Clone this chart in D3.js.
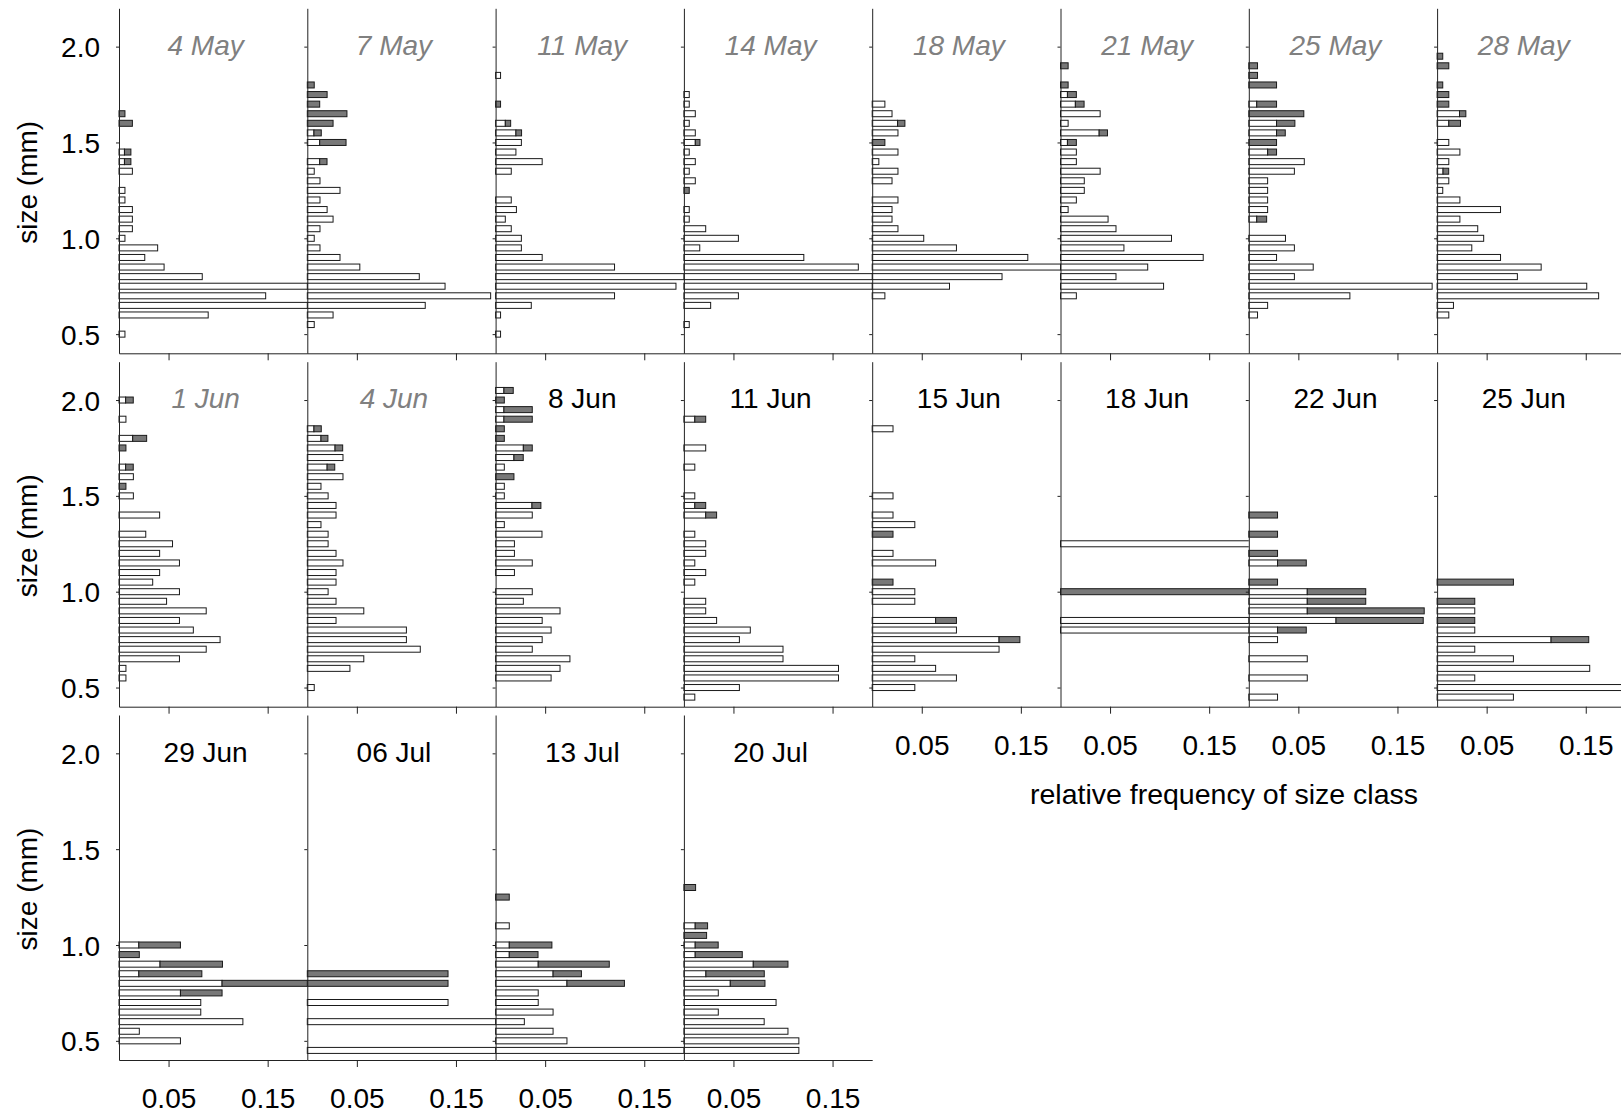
<!DOCTYPE html>
<meta charset="utf-8">
<style>

body {
  margin: 0;
  background: #fff;
}

text {
  font-family: "Liberation Sans", Arial, sans-serif;
  font-size: 28px;
  fill: #000;
}

.title.early {
  fill: #808080;
  font-style: italic;
}

.axis path,
.axis line {
  stroke: #222;
}

.axis text {
  font-size: 28px;
}

.bar {
  stroke: #1a1a1a;
  stroke-width: 1;
}

.open {
  fill: #fff;
}

.shaded {
  fill: #787878;
}

</style>
<body>
<script src="https://cdn.jsdelivr.net/npm/d3@7/dist/d3.min.js"></script>
<script>

// sampling dates, one panel each
var dates = ["4 May", "7 May", "11 May", "14 May", "18 May", "21 May", "25 May", "28 May",
             "1 Jun", "4 Jun", "8 Jun", "11 Jun", "15 Jun", "18 Jun", "22 Jun", "25 Jun",
             "29 Jun", "06 Jul", "13 Jul", "20 Jul"];

var xTicks = [0.05, 0.15],
    yTicks = [0.5, 1.0, 1.5, 2.0];

// each row: [size class (mm), open bar, shaded bar] -- shaded is stacked after open
var may04 = [[1.65, 0, 0.006], [1.60, 0, 0.0135], [1.45, 0.0055, 0.0065], [1.40, 0.0055, 0.0065],
  [1.35, 0.0135, 0], [1.25, 0.006, 0], [1.20, 0.006, 0], [1.15, 0.0135, 0], [1.10, 0.0135, 0],
  [1.05, 0.0135, 0], [1.00, 0.006, 0], [0.95, 0.039, 0], [0.90, 0.026, 0], [0.85, 0.0455, 0],
  [0.80, 0.084, 0], [0.75, 0.215, 0], [0.70, 0.148, 0], [0.65, 0.22, 0], [0.60, 0.090, 0],
  [0.50, 0.006, 0]];

var may07 = [[1.80, 0, 0.007], [1.75, 0, 0.020], [1.70, 0, 0.0125], [1.65, 0, 0.040], [1.60, 0, 0.026],
  [1.55, 0.0067, 0.0074], [1.50, 0.0125, 0.0266], [1.40, 0.0125, 0.0074], [1.35, 0.007, 0],
  [1.30, 0.0128, 0], [1.25, 0.033, 0], [1.20, 0.0128, 0], [1.15, 0.020, 0], [1.10, 0.026, 0],
  [1.05, 0.0128, 0], [1.00, 0.007, 0], [0.95, 0.0128, 0], [0.90, 0.033, 0], [0.85, 0.053, 0],
  [0.80, 0.113, 0], [0.75, 0.139, 0], [0.70, 0.185, 0], [0.65, 0.119, 0], [0.60, 0.026, 0],
  [0.55, 0.007, 0]];

var may11 = [[1.85, 0.005, 0], [1.70, 0, 0.005], [1.60, 0.0098, 0.0054], [1.55, 0.0205, 0.0057],
  [1.50, 0.026, 0], [1.45, 0.0205, 0], [1.40, 0.047, 0], [1.35, 0.0158, 0], [1.20, 0.0158, 0],
  [1.15, 0.021, 0], [1.10, 0.0098, 0], [1.05, 0.0158, 0], [1.00, 0.026, 0], [0.95, 0.026, 0],
  [0.90, 0.047, 0], [0.85, 0.12, 0], [0.80, 0.215, 0], [0.75, 0.182, 0], [0.70, 0.12, 0],
  [0.65, 0.036, 0], [0.60, 0.005, 0], [0.50, 0.005, 0]];

var may14 = [[1.75, 0.0054, 0], [1.70, 0.0054, 0], [1.65, 0.0115, 0], [1.60, 0.0054, 0],
  [1.55, 0.0115, 0], [1.50, 0.0115, 0.0047], [1.45, 0.0054, 0], [1.40, 0.0115, 0], [1.35, 0.0054, 0],
  [1.30, 0.0115, 0], [1.25, 0, 0.0054], [1.15, 0.0054, 0], [1.10, 0.0054, 0], [1.05, 0.022, 0],
  [1.00, 0.055, 0], [0.95, 0.016, 0], [0.90, 0.121, 0], [0.85, 0.176, 0], [0.80, 0.215, 0],
  [0.75, 0.215, 0], [0.70, 0.055, 0], [0.65, 0.027, 0], [0.55, 0.0054, 0]];

var may18 = [[1.70, 0.0128, 0], [1.65, 0.020, 0], [1.60, 0.0256, 0.0074], [1.55, 0.026, 0],
  [1.50, 0, 0.0128], [1.45, 0.026, 0], [1.40, 0.0067, 0], [1.35, 0.026, 0], [1.30, 0.020, 0],
  [1.20, 0.026, 0], [1.15, 0.020, 0], [1.10, 0.020, 0], [1.05, 0.026, 0], [1.00, 0.052, 0],
  [0.95, 0.085, 0], [0.90, 0.157, 0], [0.85, 0.215, 0], [0.80, 0.131, 0], [0.75, 0.078, 0],
  [0.70, 0.0128, 0]];

var may21 = [[1.90, 0, 0.0077], [1.80, 0, 0.0077], [1.75, 0.007, 0.009], [1.70, 0.015, 0.0088],
  [1.65, 0.040, 0], [1.60, 0.0077, 0], [1.55, 0.039, 0.0084], [1.50, 0.007, 0.009], [1.45, 0.016, 0],
  [1.40, 0.016, 0], [1.35, 0.040, 0], [1.30, 0.024, 0], [1.25, 0.024, 0], [1.20, 0.016, 0],
  [1.15, 0.0077, 0], [1.10, 0.048, 0], [1.05, 0.056, 0], [1.00, 0.112, 0], [0.95, 0.064, 0],
  [0.90, 0.144, 0], [0.85, 0.088, 0], [0.80, 0.056, 0], [0.75, 0.104, 0], [0.70, 0.016, 0]];

var may25 = [[1.90, 0, 0.0088], [1.85, 0, 0.0088], [1.80, 0, 0.028], [1.70, 0.008, 0.020],
  [1.65, 0, 0.0555], [1.60, 0.028, 0.0185], [1.55, 0.028, 0.0088], [1.50, 0, 0.028],
  [1.45, 0.019, 0.009], [1.40, 0.056, 0], [1.35, 0.046, 0], [1.30, 0.019, 0], [1.25, 0.019, 0],
  [1.20, 0.019, 0], [1.15, 0.019, 0], [1.10, 0.008, 0.010], [1.00, 0.037, 0], [0.95, 0.046, 0],
  [0.90, 0.028, 0], [0.85, 0.065, 0], [0.80, 0.046, 0], [0.75, 0.185, 0], [0.70, 0.102, 0],
  [0.65, 0.019, 0], [0.60, 0.0088, 0]];

var may28 = [[1.95, 0, 0.0057], [1.90, 0, 0.0118], [1.80, 0, 0.0057], [1.75, 0, 0.0118],
  [1.70, 0, 0.0118], [1.65, 0.0226, 0.0064], [1.60, 0.0118, 0.0118], [1.50, 0.0118, 0],
  [1.45, 0.023, 0], [1.40, 0.0118, 0], [1.35, 0.006, 0.0057], [1.30, 0.0118, 0], [1.25, 0.0057, 0],
  [1.20, 0.023, 0], [1.15, 0.064, 0], [1.10, 0.023, 0], [1.05, 0.041, 0], [1.00, 0.047, 0],
  [0.95, 0.035, 0], [0.90, 0.064, 0], [0.85, 0.105, 0], [0.80, 0.081, 0], [0.75, 0.151, 0],
  [0.70, 0.163, 0], [0.65, 0.0165, 0], [0.60, 0.0118, 0]];

var jun01 = [[2.00, 0.0067, 0.0077], [1.90, 0.007, 0], [1.80, 0.0138, 0.0141], [1.75, 0, 0.007],
  [1.65, 0.0067, 0.0077], [1.60, 0.0145, 0], [1.55, 0, 0.007], [1.50, 0.0145, 0], [1.40, 0.041, 0],
  [1.30, 0.027, 0], [1.25, 0.054, 0], [1.20, 0.041, 0], [1.15, 0.061, 0], [1.10, 0.041, 0],
  [1.05, 0.034, 0], [1.00, 0.061, 0], [0.95, 0.048, 0], [0.90, 0.088, 0], [0.85, 0.061, 0],
  [0.80, 0.075, 0], [0.75, 0.102, 0], [0.70, 0.088, 0], [0.65, 0.061, 0], [0.60, 0.007, 0],
  [0.55, 0.007, 0]];

var jun04 = [[1.85, 0.0067, 0.0074], [1.80, 0.0138, 0.007], [1.75, 0.028, 0.0077], [1.70, 0.036, 0],
  [1.65, 0.020, 0.0077], [1.60, 0.036, 0], [1.55, 0.0138, 0], [1.50, 0.021, 0], [1.45, 0.029, 0],
  [1.40, 0.029, 0], [1.35, 0.0138, 0], [1.30, 0.021, 0], [1.25, 0.021, 0], [1.20, 0.029, 0],
  [1.15, 0.036, 0], [1.10, 0.029, 0], [1.05, 0.029, 0], [1.00, 0.021, 0], [0.95, 0.029, 0],
  [0.90, 0.057, 0], [0.85, 0.029, 0], [0.80, 0.100, 0], [0.75, 0.100, 0], [0.70, 0.114, 0],
  [0.65, 0.057, 0], [0.60, 0.043, 0], [0.50, 0.007, 0]];

var jun08 = [[2.05, 0.0084, 0.0094], [2.00, 0, 0.0088], [1.95, 0.0084, 0.0286], [1.90, 0.0084, 0.0286],
  [1.85, 0, 0.0088], [1.80, 0, 0.0088], [1.75, 0.028, 0.009], [1.70, 0.0185, 0.0094],
  [1.65, 0.0088, 0], [1.60, 0, 0.0185], [1.55, 0.0088, 0], [1.50, 0.0088, 0], [1.45, 0.0367, 0.009],
  [1.40, 0.037, 0], [1.35, 0.0088, 0], [1.30, 0.0468, 0], [1.25, 0.019, 0], [1.20, 0.019, 0],
  [1.15, 0.037, 0], [1.10, 0.019, 0], [1.00, 0.037, 0], [0.95, 0.028, 0], [0.90, 0.065, 0],
  [0.85, 0.047, 0], [0.80, 0.056, 0], [0.75, 0.047, 0], [0.70, 0.037, 0], [0.65, 0.075, 0],
  [0.60, 0.065, 0], [0.55, 0.056, 0]];

var jun11 = [[1.90, 0.011, 0.011], [1.75, 0.022, 0], [1.65, 0.011, 0], [1.50, 0.011, 0],
  [1.45, 0.011, 0.011], [1.40, 0.022, 0.011], [1.30, 0.011, 0], [1.25, 0.022, 0], [1.20, 0.022, 0],
  [1.15, 0.011, 0], [1.10, 0.022, 0], [1.05, 0.011, 0], [0.95, 0.022, 0], [0.90, 0.022, 0],
  [0.85, 0.033, 0], [0.80, 0.067, 0], [0.75, 0.056, 0], [0.70, 0.100, 0], [0.65, 0.100, 0],
  [0.60, 0.156, 0], [0.55, 0.156, 0], [0.50, 0.056, 0], [0.45, 0.011, 0]];

var jun15 = [[1.85, 0.021, 0], [1.50, 0.021, 0], [1.40, 0.021, 0], [1.35, 0.043, 0], [1.30, 0, 0.021],
  [1.20, 0.021, 0], [1.15, 0.064, 0], [1.05, 0, 0.021], [1.00, 0.043, 0], [0.95, 0.043, 0],
  [0.85, 0.064, 0.021], [0.80, 0.085, 0], [0.75, 0.128, 0.021], [0.70, 0.128, 0], [0.65, 0.043, 0],
  [0.60, 0.064, 0], [0.55, 0.085, 0], [0.50, 0.043, 0]];

var jun18 = [[1.25, 0.25, 0], [1.00, 0, 0.25], [0.85, 0.25, 0], [0.80, 0.25, 0]];

var jun22 = [[1.40, 0, 0.029], [1.30, 0, 0.029], [1.20, 0, 0.029], [1.15, 0.029, 0.029],
  [1.05, 0, 0.029], [1.00, 0.059, 0.059], [0.95, 0.059, 0.059], [0.90, 0.059, 0.118],
  [0.85, 0.088, 0.088], [0.80, 0.029, 0.029], [0.75, 0.029, 0], [0.65, 0.059, 0], [0.55, 0.059, 0],
  [0.45, 0.029, 0]];

var jun25 = [[1.05, 0, 0.077], [0.95, 0, 0.038], [0.90, 0.038, 0], [0.85, 0, 0.038], [0.80, 0.038, 0],
  [0.75, 0.115, 0.038], [0.70, 0.038, 0], [0.65, 0.077, 0], [0.60, 0.154, 0], [0.55, 0.038, 0],
  [0.50, 0.23, 0], [0.45, 0.077, 0]];

var jun29 = [[1.00, 0.020, 0.042], [0.95, 0, 0.0205], [0.90, 0.0414, 0.063], [0.85, 0.020, 0.0636],
  [0.80, 0.104, 0.11], [0.75, 0.062, 0.042], [0.70, 0.0825, 0], [0.65, 0.0825, 0], [0.60, 0.125, 0],
  [0.55, 0.0205, 0], [0.50, 0.062, 0]];

var jul06 = [[0.85, 0, 0.142], [0.80, 0, 0.142], [0.70, 0.142, 0], [0.60, 0.285, 0], [0.45, 0.285, 0]];

var jul13 = [[1.25, 0, 0.0138], [1.10, 0.0138, 0], [1.00, 0.0138, 0.043], [0.95, 0.0138, 0.029],
  [0.90, 0.043, 0.0717], [0.85, 0.058, 0.0286], [0.80, 0.072, 0.058], [0.75, 0.043, 0],
  [0.70, 0.043, 0], [0.65, 0.058, 0], [0.60, 0.029, 0], [0.55, 0.058, 0], [0.50, 0.072, 0],
  [0.45, 0.22, 0]];

var jul20 = [[1.30, 0, 0.0118], [1.10, 0.0114, 0.0125], [1.05, 0, 0.0229], [1.00, 0.0114, 0.0232],
  [0.95, 0.0114, 0.0475], [0.90, 0.070, 0.035], [0.85, 0.0222, 0.0589], [0.80, 0.0468, 0.035],
  [0.75, 0.0347, 0], [0.70, 0.093, 0], [0.65, 0.0347, 0], [0.60, 0.081, 0], [0.55, 0.105, 0],
  [0.50, 0.116, 0], [0.45, 0.116, 0]];

var panels = [may04, may07, may11, may14, may18, may21, may25, may28,
              jun01, jun04, jun08, jun11, jun15, jun18, jun22, jun25,
              jun29, jul06, jul13, jul20];

var width = 1621,
    height = 1116,
    left = 119,
    panelW = 188.3,
    panelH = 345,
    rowTop = [8.3, 361.7, 715],
    barH = 6;

var x = d3.scaleLinear().domain([0, 0.19]).range([0, panelW]);
var y = d3.scaleLinear().domain([0.4, 2.2]).range([panelH, 0]);

var svg = d3.select("body").append("svg")
    .attr("width", width)
    .attr("height", height);

svg.selectAll("g.panel")
    .data(panels)
  .enter().append("g")
    .attr("class", "panel")
    .attr("transform", function(d, i) {
      return "translate(" + (left + (i % 8) * panelW) + "," + rowTop[Math.floor(i / 8)] + ")";
    })
    .each(function(d, i) {
      var g = d3.select(this),
          col = i % 8;

      g.append("clipPath")
          .attr("id", "clip" + i)
        .append("rect")
          .attr("x", -2)
          .attr("y", -5)
          .attr("width", panelW + 2)
          .attr("height", panelH + 10);

      var bars = g.append("g").attr("clip-path", "url(#clip" + i + ")");

      bars.selectAll("rect.open")
          .data(d.filter(function(r) { return r[1] > 0; }))
        .enter().append("rect")
          .attr("class", "bar open")
          .attr("x", x(0))
          .attr("y", function(r) { return y(r[0]) - barH / 2; })
          .attr("width", function(r) { return x(r[1]) - x(0); })
          .attr("height", barH);

      bars.selectAll("rect.shaded")
          .data(d.filter(function(r) { return r[2] > 0; }))
        .enter().append("rect")
          .attr("class", "bar shaded")
          .attr("x", function(r) { return x(r[1]); })
          .attr("y", function(r) { return y(r[0]) - barH / 2; })
          .attr("width", function(r) { return x(r[1] + r[2]) - x(r[1]); })
          .attr("height", barH);

      // size axis on the left of every panel, labelled only in the first column
      g.append("g")
          .attr("class", "axis")
          .call(d3.axisLeft(y)
            .tickValues(yTicks)
            .tickSize(3)
            .tickSizeOuter(0)
            .tickPadding(16)
            .tickFormat(col === 0 ? d3.format(".1f") : ""))
          .selectAll("text").attr("dy", "0.36em");

      // frequency axis along the bottom, labelled where no panel sits below
      g.append("g")
          .attr("class", "axis")
          .attr("transform", "translate(0," + panelH + ")")
          .call(d3.axisBottom(x)
            .tickValues(xTicks)
            .tickSize(7)
            .tickSizeOuter(0)
            .tickPadding(21)
            .tickFormat(i >= 12 ? d3.format(".2f") : ""));

      g.append("text")
          .attr("class", "title" + (i < 10 ? " early" : ""))
          .attr("x", panelW / 2 - 7.5)
          .attr("y", 46.5)
          .attr("text-anchor", "middle")
          .text(dates[i]);
    });

svg.selectAll(".axis .domain").attr("stroke", "#222");

svg.selectAll("text.ylabel")
    .data(rowTop)
  .enter().append("text")
    .attr("class", "ylabel")
    .attr("transform", function(t) { return "translate(37," + (t + panelH / 2 + 1.5) + ") rotate(-90)"; })
    .attr("text-anchor", "middle")
    .text("size (mm)");

svg.append("text")
    .attr("x", 1224)
    .attr("y", 804)
    .attr("text-anchor", "middle")
    .style("font-size", "28.5px")
    .text("relative frequency of size class");

</script>
